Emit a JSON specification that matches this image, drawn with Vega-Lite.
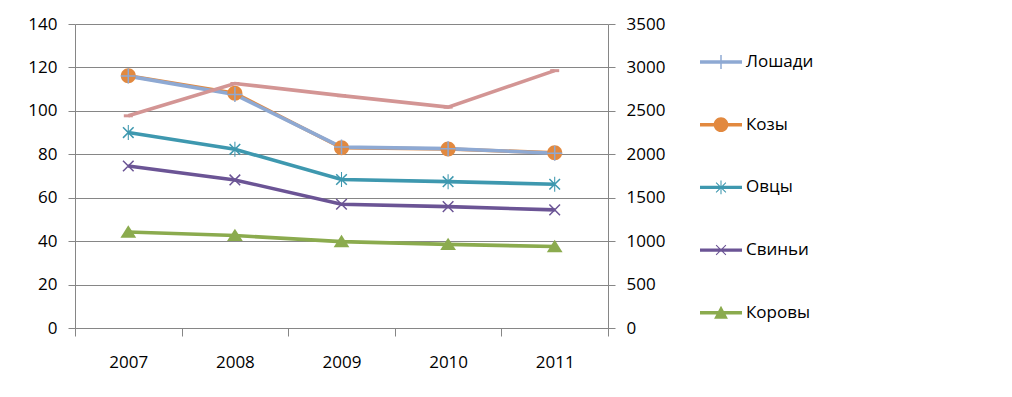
{
  "$schema": "https://vega.github.io/schema/vega-lite/v6.json",
  "width": 533,
  "height": 304,
  "autosize": "none",
  "padding": {"left": 75, "top": 24, "right": 404, "bottom": 69},
  "background": "white",
  "config": {
    "font": "Open Sans",
    "view": {"stroke": null},
    "axis": {
      "labelFont": "Open Sans",
      "labelFontSize": 17,
      "labelColor": "black",
      "domainColor": "#868686",
      "tickColor": "#868686",
      "gridColor": "#868686",
      "domainWidth": 1,
      "tickWidth": 1,
      "gridWidth": 1,
      "gridOpacity": 1,
      "title": null
    }
  },
  "datasets": {
    "main": [
      {"year": "2007", "animal": "Коровы", "value": 44.2},
      {"year": "2008", "animal": "Коровы", "value": 42.6},
      {"year": "2009", "animal": "Коровы", "value": 39.8},
      {"year": "2010", "animal": "Коровы", "value": 38.5},
      {"year": "2011", "animal": "Коровы", "value": 37.5},
      {"year": "2007", "animal": "Свиньи", "value": 74.6},
      {"year": "2008", "animal": "Свиньи", "value": 68.2},
      {"year": "2009", "animal": "Свиньи", "value": 57.0},
      {"year": "2010", "animal": "Свиньи", "value": 55.9},
      {"year": "2011", "animal": "Свиньи", "value": 54.4},
      {"year": "2007", "animal": "Овцы", "value": 90.0},
      {"year": "2008", "animal": "Овцы", "value": 82.3},
      {"year": "2009", "animal": "Овцы", "value": 68.4},
      {"year": "2010", "animal": "Овцы", "value": 67.4},
      {"year": "2011", "animal": "Овцы", "value": 66.2},
      {"year": "2007", "animal": "Козы", "value": 116.2},
      {"year": "2008", "animal": "Козы", "value": 108.1},
      {"year": "2009", "animal": "Козы", "value": 83.0},
      {"year": "2010", "animal": "Козы", "value": 82.4},
      {"year": "2011", "animal": "Козы", "value": 80.7},
      {"year": "2007", "animal": "Лошади", "value": 116.0},
      {"year": "2008", "animal": "Лошади", "value": 107.5},
      {"year": "2009", "animal": "Лошади", "value": 83.3},
      {"year": "2010", "animal": "Лошади", "value": 82.6},
      {"year": "2011", "animal": "Лошади", "value": 80.5}
    ],
    "second": [
      {"year": "2007", "animal": "Ряд 6", "value": 2443},
      {"year": "2008", "animal": "Ряд 6", "value": 2815},
      {"year": "2009", "animal": "Ряд 6", "value": 2675},
      {"year": "2010", "animal": "Ряд 6", "value": 2543},
      {"year": "2011", "animal": "Ряд 6", "value": 2963}
    ]
  },
  "layer": [
    {
      "data": {"name": "main"},
      "encoding": {
        "x": {
          "field": "year",
          "type": "ordinal",
          "scale": {"type": "band", "paddingInner": 0, "paddingOuter": 0},
          "axis": {
            "orient": "bottom",
            "tickBand": "extent",
            "tickSize": 8,
            "labelPadding": 18,
            "labelAngle": 0,
            "grid": false,
            "domain": true
          }
        },
        "y": {
          "field": "value",
          "type": "quantitative",
          "scale": {"domain": [0, 140], "nice": false, "zero": true},
          "axis": {
            "orient": "left",
            "values": [0, 20, 40, 60, 80, 100, 120, 140],
            "grid": true,
            "tickSize": 7,
            "labelPadding": 11,
            "domain": true
          }
        },
        "color": {
          "field": "animal",
          "type": "nominal",
          "scale": {
            "domain": ["Лошади", "Козы", "Овцы", "Свиньи", "Коровы", "Ряд 6"],
            "range": ["#8EA9D3", "#E2893F", "#3E98AF", "#6B5495", "#8BAB4E", "#D39594"]
          },
          "legend": {
            "orient": "none",
            "legendX": 625,
            "legendY": 17,
            "values": ["Лошади", "Козы", "Овцы", "Свиньи", "Коровы"],
            "title": null,
            "padding": 0,
            "rowPadding": 33.7,
            "symbolSize": 1764,
            "symbolStrokeWidth": 0,
            "labelFont": "Open Sans",
            "labelFontSize": 17,
            "labelColor": "black",
            "labelOffset": 4,
            "encode": {
              "symbols": {
                "update": {
                  "shape": {"signal": "datum.value === 'Лошади' ? 'M-1,-0.08H1V0.08H-1Z M-0.035,-0.33H0.035V0.33H-0.035Z' : datum.value === 'Козы' ? 'M-1,-0.08H1V0.08H-1Z M0.35,0A0.35,0.35 0 1,1 -0.35,0A0.35,0.35 0 1,1 0.35,0Z' : datum.value === 'Овцы' ? 'M-1,-0.08H1V0.08H-1Z M-0.025,-0.33H0.025V0.33H-0.025Z M-0.215,-0.251L0.251,0.215L0.215,0.251L-0.251,-0.215Z M-0.251,0.215L0.215,-0.251L0.251,-0.215L-0.215,0.251Z' : datum.value === 'Свиньи' ? 'M-1,-0.08H1V0.08H-1Z M-0.215,-0.251L0.251,0.215L0.215,0.251L-0.251,-0.215Z M-0.251,0.215L0.215,-0.251L0.251,-0.215L-0.215,0.251Z' : 'M-1,-0.08H1V0.08H-1Z M0,-0.33L0.33,0.28L-0.33,0.28Z'"},
                  "fill": {"scale": "color", "field": "value"},
                  "stroke": {"value": "transparent"},
                  "strokeWidth": {"value": 0},
                  "size": {"value": 1764},
                  "opacity": {"value": 1}
                }
              }
            }
          }
        }
      },
      "layer": [
        {"mark": {"type": "line", "strokeWidth": 3.6}},
        {
          "mark": {"type": "point", "filled": true, "size": 225, "opacity": 1, "strokeWidth": 0},
          "encoding": {
            "shape": {
              "field": "animal",
              "type": "nominal",
              "scale": {
                "domain": ["Лошади", "Козы", "Овцы", "Свиньи", "Коровы"],
                "range": [
                  "M-1,-0.1H1V0.1H-1Z M-0.1,-1H0.1V1H-0.1Z",
                  "M1,0A1,1 0 1,1 -1,0A1,1 0 1,1 1,0Z",
                  "M-0.07,-1H0.07V1H-0.07Z M-0.636,-0.778L0.778,0.636L0.636,0.778L-0.778,-0.636Z M-0.778,0.636L0.636,-0.778L0.778,-0.636L-0.636,0.778Z",
                  "M-0.636,-0.778L0.778,0.636L0.636,0.778L-0.778,-0.636Z M-0.778,0.636L0.636,-0.778L0.778,-0.636L-0.636,0.778Z",
                  "M0,-0.9L1.05,0.75L-1.05,0.75Z"
                ]
              },
              "legend": null
            }
          }
        }
      ]
    },
    {
      "data": {"name": "second"},
      "encoding": {
        "x": {
          "field": "year",
          "type": "ordinal",
          "axis": {
            "orient": "bottom",
            "tickBand": "extent",
            "tickSize": 8,
            "labelPadding": 18,
            "labelAngle": 0,
            "grid": false,
            "domain": true
          }
        },
        "y": {
          "field": "value",
          "type": "quantitative",
          "scale": {"domain": [0, 3500], "nice": false, "zero": true},
          "axis": {
            "orient": "right",
            "values": [0, 500, 1000, 1500, 2000, 2500, 3000, 3500],
            "format": "d",
            "grid": false,
            "tickSize": 7,
            "labelPadding": 11,
            "domain": true
          }
        },
        "color": {"field": "animal", "type": "nominal"}
      },
      "layer": [
        {"mark": {"type": "line", "strokeWidth": 3.6}},
        {"mark": {"type": "point", "filled": true, "size": 225, "opacity": 1, "strokeWidth": 0, "shape": "M-0.6,-0.2H0.6V0.2H-0.6Z"}}
      ]
    }
  ],
  "resolve": {"scale": {"y": "independent"}}
}
